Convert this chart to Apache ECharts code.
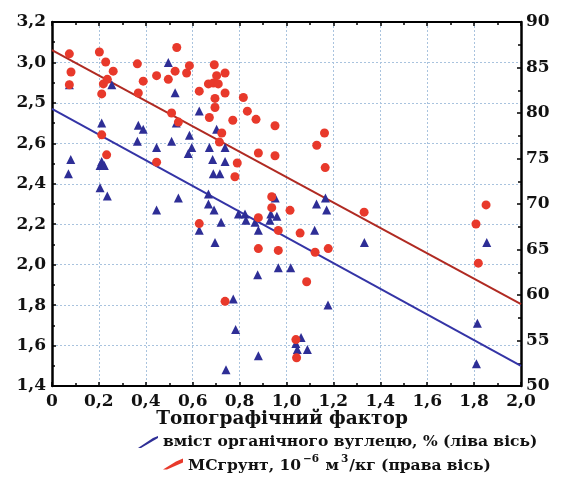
<!DOCTYPE html>
<html>
<head>
<meta charset="utf-8">
<script src="https://cdn.jsdelivr.net/npm/echarts@6/dist/echarts.min.js"></script>
<style>
html,body{margin:0;padding:0;background:#fff;}
#chart{width:564px;height:480px;}
</style>
</head>
<body>
<div id="chart"></div>
<script>
// ---- Data ----
const xTickLabels = ['0','0,2','0,4','0,6','0,8','1,0','1,2','1,4','1,6','1,8','2,0'];
const leftTickLabels = ['1,4','1,6','1,8','2,0','2,2','2,4','2,6','2,5','3,0','3,2'];
const rightTickLabels = ['50','55','60','65','70','75','80','85','90'];

const carbonName = 'вміст органічного вуглецю, % (ліва вісь)';
const msName = 'МСгрунт';

// blue triangles: organic carbon (left axis)
const carbonX = [0.074,0.255,0.496,0.525,0.628,0.212,0.368,0.389,0.530,0.702,
  0.364,0.510,0.586,0.446,0.596,0.581,0.671,0.738,0.080,0.070,
  0.212,0.205,0.223,0.685,0.738,0.688,0.716,0.205,0.236,0.446,
  0.539,0.667,0.667,0.691,0.721,0.628,0.695,0.795,0.823,0.827,
  0.866,0.880,0.952,0.959,0.929,0.933,1.128,1.166,1.171,1.120,
  1.332,1.854,0.877,0.965,1.018,0.773,1.177,0.783,1.062,1.040,
  1.046,1.089,0.880,0.742,1.814,1.810];
const carbonY = [2.89,2.89,3.00,2.85,2.76,2.70,2.69,2.67,2.70,2.67,
  2.61,2.61,2.64,2.58,2.58,2.55,2.58,2.58,2.52,2.45,
  2.51,2.49,2.49,2.52,2.51,2.45,2.45,2.38,2.34,2.27,
  2.33,2.35,2.30,2.27,2.21,2.17,2.11,2.25,2.25,2.22,
  2.21,2.17,2.33,2.24,2.22,2.25,2.30,2.33,2.27,2.17,
  2.11,2.11,1.95,1.985,1.985,1.83,1.80,1.68,1.64,1.61,
  1.58,1.58,1.55,1.48,1.71,1.51];

// red circles: magnetic susceptibility (right axis)
const msX = [0.074,0.202,0.081,0.229,0.364,0.261,0.074,0.219,0.236,0.212,
  0.389,0.368,0.446,0.212,0.233,0.446,0.532,0.586,0.525,0.574,
  0.496,0.692,0.738,0.702,0.667,0.688,0.709,0.628,0.738,0.695,
  0.816,0.695,0.510,0.539,0.671,0.771,0.833,0.870,0.951,0.724,
  0.714,0.880,0.951,0.790,0.780,1.162,1.129,1.165,0.937,0.937,
  1.015,1.331,0.880,0.628,0.965,1.058,0.880,0.965,1.122,1.178,
  1.086,0.738,1.040,1.043,1.851,1.808,1.818];
const msY = [86.5,86.7,84.5,85.6,85.4,84.6,83.1,83.2,83.7,82.1,
  83.5,82.2,84.1,77.6,75.4,74.6,87.2,85.2,84.6,84.4,
  83.7,85.3,84.4,84.1,83.2,83.3,83.2,82.4,82.2,81.6,
  81.7,80.6,80.0,79.0,79.5,79.2,80.2,79.3,78.6,77.8,
  76.8,75.6,75.3,74.5,73.0,77.8,76.45,74.0,70.8,69.6,
  69.3,69.1,68.5,67.85,67.1,66.8,65.1,64.9,64.7,65.1,
  61.45,59.3,55.1,53.1,69.9,67.8,63.5];

// regression lines (end points)
const fitX = [0, 2.0];
const carbonFitY = [2.77, 1.50];
const msFitY = [86.9, 59.0];

const zip = (a, b) => a.map((v, i) => [v, b[i]]);

const FONT = 'DejaVu Serif';
const chart = echarts.init(document.getElementById('chart'), null, {renderer: 'canvas'});

const gridLine = {show: true, lineStyle: {color: '#a9c3de', type: [2, 2], width: 1}};
const tickStyle = {show: true, inside: true, length: 4, lineStyle: {color: '#000', width: 1.5}};
const minorStyle = {show: true, splitNumber: 2, length: 3, lineStyle: {color: '#000', width: 1.5}};

chart.setOption({
  animation: false,
  backgroundColor: '#fff',
  grid: {left: 52, right: 43, top: 22, bottom: 94, show: false},
  xAxis: [{
    type: 'value', min: 0, max: 2, interval: 0.2, position: 'bottom',
    axisLine: {show: true, onZero: false, lineStyle: {color: '#000', width: 2}},
    axisTick: tickStyle, minorTick: minorStyle,
    splitLine: gridLine,
    axisLabel: {
      color: '#111', fontFamily: FONT, fontWeight: 'bold', fontSize: 17, margin: 7,
      formatter: v => xTickLabels[Math.round(v / 0.2)]
    },
    name: 'Топографічний фактор', nameLocation: 'middle', nameGap: 24, nameMoveOverlap: false,
    nameTextStyle: {color: '#111', fontFamily: FONT, fontWeight: 'bold', fontSize: 18.5, padding: [0, 9, 0, 0], verticalAlign: 'top'}
  }, {
    type: 'value', min: 0, max: 2, interval: 0.2, position: 'top',
    axisLine: {show: true, onZero: false, lineStyle: {color: '#000', width: 2}},
    axisTick: tickStyle, minorTick: minorStyle,
    splitLine: {show: false}, axisLabel: {show: false}
  }],
  yAxis: [{
    type: 'value', min: 1.4, max: 3.2, interval: 0.2, position: 'left',
    axisLine: {show: true, onZero: false, lineStyle: {color: '#000', width: 2.5}},
    axisTick: tickStyle, minorTick: minorStyle,
    splitLine: gridLine,
    axisLabel: {
      color: '#111', fontFamily: FONT, fontWeight: 'bold', fontSize: 17, margin: 6,
      formatter: v => leftTickLabels[Math.round((v - 1.4) / 0.2)]
    }
  }, {
    type: 'value', min: 50, max: 90, interval: 5, position: 'right',
    axisLine: {show: true, onZero: false, lineStyle: {color: '#000', width: 2.5}},
    axisTick: tickStyle, minorTick: minorStyle,
    splitLine: {show: false},
    axisLabel: {
      color: '#111', fontFamily: FONT, fontWeight: 'bold', fontSize: 17, margin: 5,
      formatter: v => rightTickLabels[Math.round((v - 50) / 5)]
    }
  }],
  legend: [{
    data: [carbonName], left: 133, top: 429, itemWidth: 20, itemHeight: 12, itemGap: 6,
    icon: 'path://M0,12 L3,12 L20,2 L20,0 L15,2 Z',
    textStyle: {color: '#111', fontFamily: FONT, fontWeight: 'bold', fontSize: 15.5}
  }, {
    data: [msName], left: 158, top: 449, itemWidth: 20, itemHeight: 11, itemGap: 6,
    icon: 'path://M0,11 L4,11 L20,4 L20,0 L13,3 Z',
    formatter: () => '{n|МСгрунт, 10}{s|−6}{n| м}{s|3}{n|/кг (права вісь)}',
    textStyle: {
      color: '#111', fontFamily: FONT, fontWeight: 'bold', fontSize: 15.5,
      rich: {
        n: {fontFamily: FONT, fontWeight: 'bold', fontSize: 15.5, color: '#111', lineHeight: 20, verticalAlign: 'bottom'},
        s: {fontFamily: FONT, fontWeight: 'bold', fontSize: 10.5, color: '#111', lineHeight: 20, verticalAlign: 'top', padding: [0, 1, 0, 2]}
      }
    }
  }],
  series: [{
    name: carbonName, type: 'scatter', xAxisIndex: 0, yAxisIndex: 0,
    symbol: 'triangle', symbolSize: 9,
    itemStyle: {color: '#2e2e96', opacity: 1},
    data: zip(carbonX, carbonY), z: 3
  }, {
    name: msName, type: 'scatter', xAxisIndex: 0, yAxisIndex: 1,
    symbol: 'circle', symbolSize: 9,
    itemStyle: {color: '#e8392b', opacity: 1},
    data: zip(msX, msY), z: 4
  }, {
    name: 'fit-carbon', type: 'line', xAxisIndex: 0, yAxisIndex: 0,
    symbol: 'none', silent: true,
    lineStyle: {color: '#3434a6', width: 2},
    data: zip(fitX, carbonFitY), z: 2
  }, {
    name: 'fit-ms', type: 'line', xAxisIndex: 0, yAxisIndex: 1,
    symbol: 'none', silent: true,
    lineStyle: {color: '#b02a22', width: 2},
    data: zip(fitX, msFitY), z: 2
  }]
});
</script>
</body>
</html>
